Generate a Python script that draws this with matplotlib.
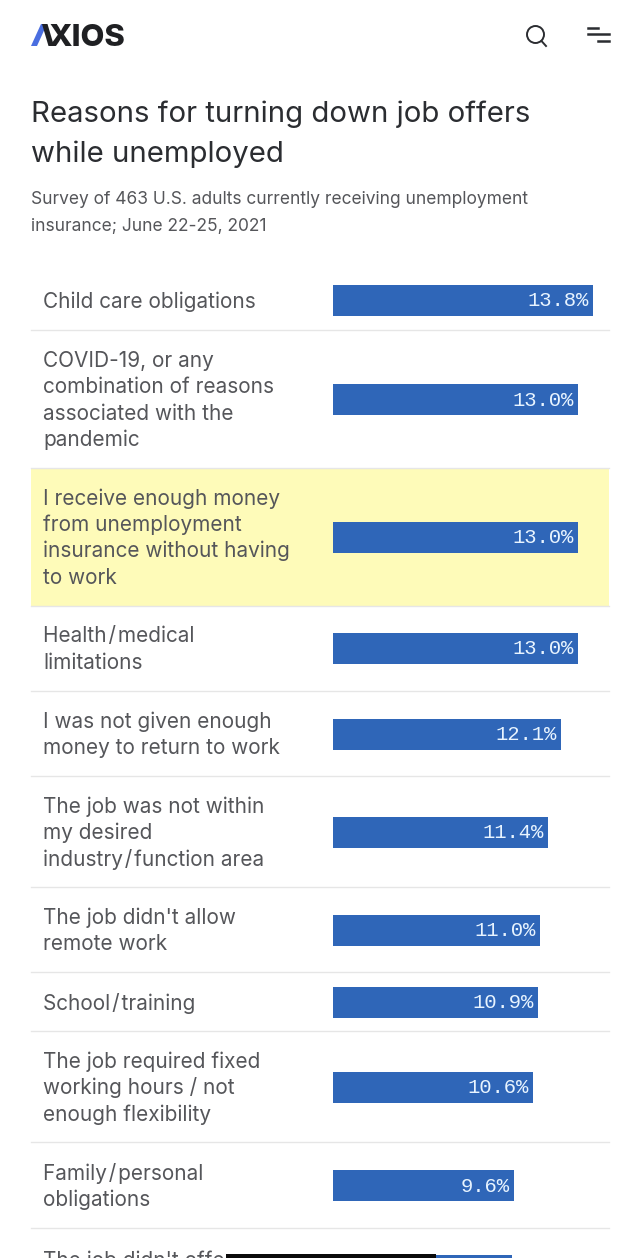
import matplotlib
matplotlib.use('Agg')
import matplotlib.pyplot as plt
from matplotlib.patches import Rectangle, Polygon, Circle

W, H = 640, 1258
plt.rcParams['font.family'] = ['Inter', 'DejaVu Sans']

# values
reasons = [
    "Child care obligations",
    "COVID-19, or any\ncombination of reasons\nassociated with the\npandemic",
    "I receive enough money\nfrom unemployment\ninsurance without having\nto work",
    "Health\u200a/\u200amedical\nlimitations",
    "I was not given enough\nmoney to return to work",
    "The job was not within\nmy desired\nindustry\u200a/\u200afunction area",
    "The job didn't allow\nremote work",
    "School\u200a/\u200atraining",
    "The job required fixed\nworking hours / not\nenough flexibility",
    "Family\u200a/\u200apersonal\nobligations",
    "The job didn't offer",
]
shares = [13.8, 13.0, 13.0, 13.0, 12.1, 11.4, 11.0, 10.9, 10.6, 9.6, 9.5]
row_tops = [271, 331, 468, 606, 692, 777, 888, 973, 1032, 1143, 1229]
row_bottoms = [330, 468, 606, 691, 776, 887, 972, 1031, 1142, 1228, 1312]
highlight = 2

BLUE = '#2f66b8'
TEXT = '#55565a'
DARK = '#2b2d31'
LINE = '#e6e6e6'
YELLOW = '#fefbb9'

fig = plt.figure(figsize=(W / 100, H / 100), dpi=100, facecolor='white')

# whole page in pixels
page = fig.add_axes([0, 0, 1, 1])
page.set_xlim(0, W)
page.set_ylim(H, 0)
page.axis('off')


def px(size):
    return size * 0.72


# logo
page.text(48, 38, "XIOS", fontsize=px(31), fontweight='heavy', color='#1f2023', va='center', ha='left')
page.add_patch(Polygon([(31, 46), (37, 46), (47, 24), (41, 24)], closed=True, color='#4a6ee0', lw=0))
page.add_patch(Polygon([(42, 24), (47.5, 24), (54, 46), (48.5, 46)], closed=True, color='#1f2023', lw=0))

# search and menu icons
page.add_patch(Circle((535.5, 34.5), 8.5, fill=False, ec=DARK, lw=1.4))
page.plot([541.5, 546], [41, 46], color=DARK, lw=1.4)
page.plot([588, 598], [27.5, 27.5], color=DARK, lw=1.8)
page.plot([588, 609], [34, 34], color=DARK, lw=1.8)
page.plot([598, 609], [40.5, 40.5], color=DARK, lw=1.8)

# heading
page.text(31, 114.5, "Reasons for turning down job offers", fontsize=px(29.3), color=DARK, va='center')
page.text(31, 154.5, "while unemployed", fontsize=px(29.3), color=DARK, va='center')
page.text(31, 199, "Survey of 463 U.S. adults currently receiving unemployment", fontsize=px(17.4), color=TEXT, va='center')
page.text(31, 227, "insurance; June 22-25, 2021", fontsize=px(17.4), color=TEXT, va='center')

# rows
for i, reason in enumerate(reasons):
    top, bottom = row_tops[i], row_bottoms[i]
    if i == highlight:
        page.add_patch(Rectangle((31, top), 578, bottom - top, color=YELLOW, lw=0, zorder=0))
    if bottom < H:
        page.plot([31, 609], [bottom - 0.5, bottom - 0.5], color=LINE, lw=1, zorder=1)
    lines = reason.split("\n")
    mid = (top + bottom) / 2 + 1
    for j, line in enumerate(lines):
        y = mid + (j - (len(lines) - 1) / 2) * 26.4
        if i == len(reasons) - 1:
            y = 1261
        page.text(43, y, line, fontsize=px(20.8), color=TEXT, va='center', ha='left')

# bars, x axis in percent
bars = fig.add_axes([333 / W, 0, (609 - 333) / W, 1])
bars.set_xlim(0, (609 - 333) / 18.84)
bars.set_ylim(H, 0)
bars.axis('off')
centers = [(t + b) / 2 for t, b in zip(row_tops, row_bottoms)]
bars.barh(centers, shares, height=31, color=BLUE, linewidth=0)
for c, v in zip(centers[:-1], shares[:-1]):
    bars.annotate(f"{v:.1f}%", (v, c + 0.5), xytext=(-3, 0), textcoords='offset points',
                  ha='right', va='center', color='#e8f4ff',
                  fontsize=px(20.5), family=['Liberation Mono', 'DejaVu Sans Mono'])

# phone home bar over the bottom edge
top = fig.add_axes([0, 0, 1, 1])
top.set_xlim(0, W)
top.set_ylim(H, 0)
top.axis('off')
top.patch.set_alpha(0)
top.add_patch(Rectangle((226, 1254), 210, 8, color='#0a0a0a', lw=0))

fig.savefig('out.png', dpi=100, facecolor='white')
